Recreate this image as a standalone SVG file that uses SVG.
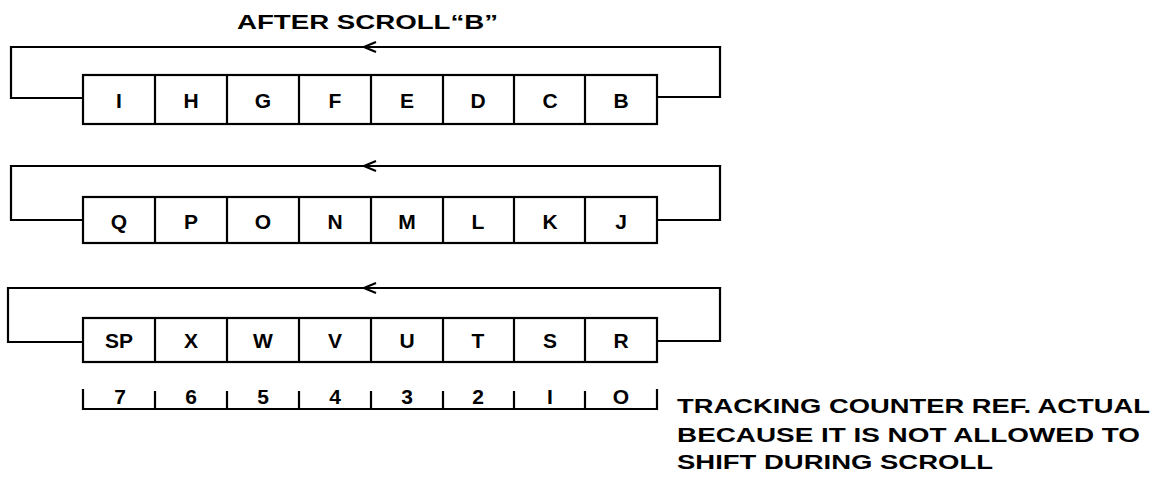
<svg xmlns="http://www.w3.org/2000/svg" width="1174" height="483" viewBox="0 0 1174 483">
<style>
.ln{fill:none;stroke:#000;stroke-width:2.2;stroke-linecap:square}
.bx{fill:#fff;stroke:#000;stroke-width:2.2}
.t{font-family:"Liberation Sans",Arial,sans-serif;font-weight:bold;font-size:21px;fill:#000;text-anchor:middle}
.n{font-family:"Liberation Sans",Arial,sans-serif;font-weight:bold;font-size:20px;fill:#000}
</style>
<defs>
<marker id="ah" viewBox="0 0 14 12" refX="13" refY="6" markerWidth="14" markerHeight="12" markerUnits="userSpaceOnUse" orient="auto">
<path d="M1,1 L13,6 L1,11" fill="none" stroke="#000" stroke-width="2.2"/>
</marker>
</defs>
<rect width="1174" height="483" fill="#fff"/>
<text class="n" x="237" y="29" textLength="261" lengthAdjust="spacingAndGlyphs">AFTER SCROLL“B”</text>
<g id="connectors">
<path class="ln" d="M83,98 H11 V47 H720 V97 H657"/>
<path class="ln" d="M720,47 H364" marker-end="url(#ah)"/>
<path class="ln" d="M83,220 H11 V166 H720 V220 H657"/>
<path class="ln" d="M720,166 H364" marker-end="url(#ah)"/>
<path class="ln" d="M83,342 H8 V288 H720 V341 H657"/>
<path class="ln" d="M720,288 H364" marker-end="url(#ah)"/>
</g>
<g id="row1">
<rect class="bx" x="83" y="75" width="574" height="49"/>
<path class="ln" d="M155,75V124M227,75V124M299,75V124M371,75V124M443,75V124M514,75V124M585,75V124"/>
<text class="t" x="119" y="108">I</text><text class="t" x="191" y="108">H</text><text class="t" x="263" y="108">G</text><text class="t" x="335" y="108">F</text><text class="t" x="407" y="108">E</text><text class="t" x="478" y="108">D</text><text class="t" x="550" y="108">C</text><text class="t" x="621" y="108">B</text>
</g>
<g id="row2">
<rect class="bx" x="83" y="197" width="574" height="46"/>
<path class="ln" d="M155,197V243M227,197V243M299,197V243M371,197V243M443,197V243M514,197V243M585,197V243"/>
<text class="t" x="119" y="229">Q</text><text class="t" x="191" y="229">P</text><text class="t" x="263" y="229">O</text><text class="t" x="335" y="229">N</text><text class="t" x="407" y="229">M</text><text class="t" x="478" y="229">L</text><text class="t" x="550" y="229">K</text><text class="t" x="621" y="229">J</text>
</g>
<g id="row3">
<rect class="bx" x="83" y="318" width="574" height="44"/>
<path class="ln" d="M155,318V362M227,318V362M299,318V362M371,318V362M443,318V362M514,318V362M585,318V362"/>
<text class="t" x="119" y="348">SP</text><text class="t" x="191" y="348">X</text><text class="t" x="263" y="348">W</text><text class="t" x="335" y="348">V</text><text class="t" x="407" y="348">U</text><text class="t" x="478" y="348">T</text><text class="t" x="550" y="348">S</text><text class="t" x="621" y="348">R</text>
</g>
<g id="counter">
<path class="ln" d="M83,390V409H657V390M155,392V409M227,392V409M299,392V409M371,392V409M443,392V409M514,392V409M585,392V409"/>
<text class="t" x="120" y="404">7</text><text class="t" x="191" y="404">6</text><text class="t" x="263" y="404">5</text><text class="t" x="335" y="404">4</text><text class="t" x="407" y="404">3</text><text class="t" x="478" y="404">2</text><text class="t" x="550" y="404">I</text><text class="t" x="621" y="404">O</text>
</g>
<g id="note">
<text class="n" x="677" y="413" textLength="473" lengthAdjust="spacingAndGlyphs">TRACKING COUNTER REF. ACTUAL</text>
<text class="n" x="677" y="442" textLength="463" lengthAdjust="spacingAndGlyphs">BECAUSE IT IS NOT ALLOWED TO</text>
<text class="n" x="677" y="469" textLength="316" lengthAdjust="spacingAndGlyphs">SHIFT DURING SCROLL</text>
</g>
</svg>
